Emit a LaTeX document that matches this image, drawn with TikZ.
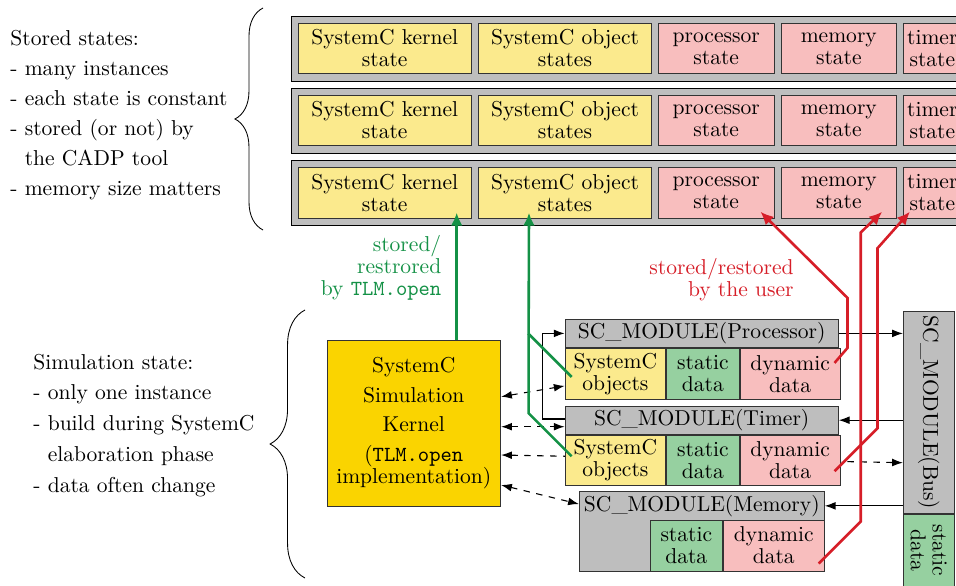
\documentclass[tikz,border=0pt]{standalone}
\usetikzlibrary{arrows.meta,decorations.pathreplacing}

\definecolor{stategray}{RGB}{190,190,190}
\definecolor{sysyellow}{RGB}{251,234,141}
\definecolor{userpink}{RGB}{248,190,190}
\definecolor{staticgreen}{RGB}{150,208,160}
\definecolor{kernelgold}{RGB}{250,212,0}
\definecolor{toolgreen}{RGB}{20,145,70}
\definecolor{userred}{RGB}{214,30,40}

\newlength\pxu
\setlength\pxu{0.464pt}
\newcommand\tightfont{\fontsize{10}{10.2}\selectfont}
\newcommand\loosefont{\fontsize{10}{14}\selectfont}
\newcommand\simfont{\fontsize{10}{14.3}\selectfont}

\tikzset{every picture/.style={line width=0.4pt}}
\tikzset{
  wh/.style 2 args={minimum width=#1\pxu, minimum height=#2\pxu},
  cell/.style={draw=black!80, inner sep=0pt, align=center, font=\tightfont},
  syscell/.style={cell, fill=sysyellow},
  usercell/.style={cell, fill=userpink},
  statcell/.style={cell, fill=staticgreen},
  modcell/.style={cell, fill=stategray},
  rowbox/.style={draw=black, fill=stategray, inner sep=0pt, wh={709}{65}},
  sidetext/.style={anchor=north west, inner sep=0pt, align=left, font=\loosefont},
  busarrow/.style={-{Latex[length=5pt,width=3.6pt]}, line width=0.5pt},
  kernlink/.style={{Latex[length=5pt,width=3.6pt]}-{Latex[length=5pt,width=3.6pt]}, dashed, line width=0.5pt},
  toolarrow/.style={-{Latex[length=6pt,width=5.5pt]}, draw=toolgreen, line width=1.2pt},
  userarrow/.style={-{Latex[length=6pt,width=5.5pt]}, draw=userred, line width=1.2pt},
  curly/.style={decorate, decoration={brace, amplitude=#1}},
}

\begin{document}
\begin{tikzpicture}[x=0.464pt,y=0.464pt,yscale=-1,xscale=1]
\useasboundingbox (0,0) rectangle (956,585);
\clip (0,0) rectangle (956,585);

%Shape: stored state row 1
\node[rowbox] (row1) at (645.5,48.5) {};
\node[syscell, wh={172.7}{50.7}] (k1) at (384.7,48.5) {SystemC kernel\\state};
\node[syscell, wh={173.4}{50.7}] (o1) at (565,48.5) {SystemC object\\states};
\node[usercell, wh={115.7}{50.7}] (p1) at (716.2,48.5) {processor\\state};
\node[usercell, wh={115.7}{50.7}] (m1) at (838.8,48.5) {memory\\state};
\node[usercell, wh={58}{50.7}] (t1) at (932.3,48.5) {timer\\state};

%Shape: stored state row 2
\node[rowbox] (row2) at (645.5,120.5) {};
\node[syscell, wh={172.7}{50.7}] (k2) at (384.7,120.5) {SystemC kernel\\state};
\node[syscell, wh={173.4}{50.7}] (o2) at (565,120.5) {SystemC object\\states};
\node[usercell, wh={115.7}{50.7}] (p2) at (716.2,120.5) {processor\\state};
\node[usercell, wh={115.7}{50.7}] (m2) at (838.8,120.5) {memory\\state};
\node[usercell, wh={58}{50.7}] (t2) at (932.3,120.5) {timer\\state};

%Shape: stored state row 3
\node[rowbox] (row3) at (645.5,193) {};
\node[syscell, wh={172.7}{50.7}] (k3) at (384.7,193) {SystemC kernel\\state};
\node[syscell, wh={173.4}{50.7}] (o3) at (565,193) {SystemC object\\states};
\node[usercell, wh={115.7}{50.7}] (p3) at (716.2,193) {processor\\state};
\node[usercell, wh={115.7}{50.7}] (m3) at (838.8,193) {memory\\state};
\node[usercell, wh={58}{50.7}] (t3) at (932.3,193) {timer\\state};

% Text Node
\node[sidetext] (storedtxt) at (10,29.5) {Stored states:\\- many instances\\- each state is constant\\- stored (or not) by\\\hphantom{- }the CADP tool\\- memory size matters};
% Text Node
\node[sidetext, font=\simfont] (simtxt) at (33,353.5) {Simulation state:\\- only one instance\\- build during SystemC\\\hphantom{- }elaboration phase\\- data often change};

%Braces
\draw[curly=13pt] (263,230) -- (263,8);
\draw[curly=16.2pt] (305,578) -- (305,310);

%Shape: kernel
\node[cell, fill=kernelgold, wh={173.7}{165.3}] (kern) at (413.8,423.4) {SystemC\\[3.5pt]Simulation\\[3.5pt]Kernel\\[3.8pt](\texttt{TLM.open}\\implementation)};

%Shape: bus
\node[modcell, wh={50.7}{201.6}] (bus) at (928.7,412.5) {};
\node[rotate=-90, font=\tightfont, inner sep=0pt] (buslbl) at (bus.center) {SC\_MODULE(Bus)};
\node[statcell, wh={50.7}{72.8}, anchor=north] (busstat) at (bus.south) {};
\node[rotate=-90, align=center, font=\tightfont, inner sep=0pt] (busstatlbl) at (busstat.center) {static\\data};

%Shape: processor module
\node[modcell, wh={273.3}{28.7}] (phdr) at (701.7,333.4) {SC\_MODULE(Processor)};
\node[syscell, wh={100.7}{50.6}, anchor=north west] (pobj) at (phdr.south west) {SystemC\\objects};
\node[statcell, wh={72.6}{50.6}, anchor=west] (pstat) at (pobj.east) {static\\data};
\node[usercell, wh={100}{50.6}, anchor=west] (pdyn) at (pstat.east) {dynamic\\data};

%Dashed line kernel <-> bus (behind the timer)
\draw[kernlink] ([shift={(0,31.6)}]kern.east) -- ([shift={(0,50.2)}]bus.west);

%Shape: timer module
\node[modcell, wh={273.3}{28.3}] (thdr) at (701.7,420.2) {SC\_MODULE(Timer)};
\node[syscell, wh={100.7}{50}, anchor=north west] (tobj) at (thdr.south west) {SystemC\\objects};
\node[statcell, wh={72.6}{50}, anchor=west] (tstat) at (tobj.east) {static\\data};
\node[usercell, wh={100}{50}, anchor=west] (tdyn) at (tstat.east) {dynamic\\data};

%Shape: memory module
\node[modcell, wh={245}{79.3}] (mmod) at (701.8,531.35) {};
\node[cell, draw=none, wh={245}{28.3}, anchor=north] (mhdr) at (mmod.north) {SC\_MODULE(Memory)};
\node[usercell, wh={101}{51}, anchor=south east] (mdyn) at (mmod.south east) {dynamic\\data};
\node[statcell, wh={72.3}{51}, anchor=east] (mstat) at (mdyn.west) {static\\data};

%Straight Lines: kernel links
\draw[kernlink] ([shift={(0,-26.7)}]kern.east) -- ([shift={(0,12)}]pobj.west);
\draw[kernlink] ([shift={(0,3.3)}]kern.east) -- ([shift={(0,6.5)}]thdr.west);
\draw[kernlink] ([shift={(0,61.6)}]kern.east) -- ([shift={(0,-1.8)}]mhdr.west);

%Straight Lines: bus links
\draw[busarrow] ([shift={(0,-1.2)}]thdr.west) -- ++(-21.7,0) |- (phdr.west);
\draw[busarrow] (phdr.east) -- (phdr.east -| bus.west);
\draw[busarrow] (thdr.east -| bus.west) -- (thdr.east);
\draw[busarrow] (mhdr.east -| bus.west) -- (mhdr.east);

%Green lines: stored/restored by TLM.open
\coordinate (gA) at ([shift={(72,-6)}]k3.south);
\coordinate (gB) at ([shift={(-36,-6)}]o3.south);
\draw[toolarrow] (kern.north -| gA) -- (gA);
\draw[toolarrow] ([shift={(7,3)}]pobj.west) -- ++(-43,-43) -- (gB);
\draw[toolarrow, -] ([shift={(7,-4)}]tobj.west) -- ++(-43,-43) -- ++(0,-79);

%Red lines: stored/restored by the user
\draw[userarrow] ([shift={(-6,-11)}]pdyn.east) -- ++(13,-15) -- ++(0,-50) -- ([shift={(-14,-7)}]p3.south east);
\draw[userarrow] ([shift={(-6,11)}]tdyn.east) -- ++(43,-43) -- ++(0,-180) -- ([shift={(7,-7)}]t3.south west);
\draw[userarrow] ([shift={(-6,18)}]mdyn.east) -- ++(42,-42) -- ++(0,-289) -- ([shift={(-15,-7)}]m3.south east);

% Text Node
\node[anchor=east, align=right, font=\tightfont, text=toolgreen, inner sep=0pt] (tooltxt) at (441.7,268) {stored/\\restrored\\by \texttt{TLM.open}};
% Text Node
\node[anchor=east, align=right, font=\tightfont, text=userred, inner sep=0pt] (usertxt) at (794,280) {stored/restored\\by the user};

\end{tikzpicture}
\end{document}
